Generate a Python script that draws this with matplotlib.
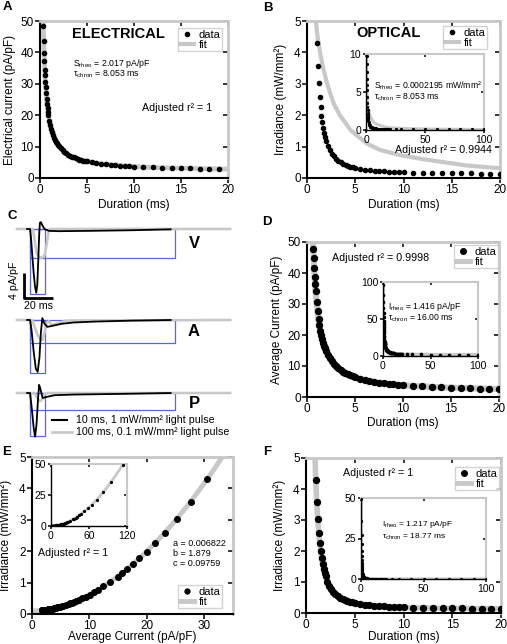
import numpy as np
import matplotlib
matplotlib.use("Agg")
import matplotlib.pyplot as plt
from matplotlib.lines import Line2D
import matplotlib.lines as mlines
from matplotlib.patches import Rectangle

plt.rcParams['font.family'] = ['Liberation Sans', 'DejaVu Sans']
plt.rcParams['mathtext.fontset'] = 'custom'
plt.rcParams['mathtext.rm'] = 'Liberation Sans'
plt.rcParams['mathtext.it'] = 'Liberation Sans:italic'

# ---------------- data ----------------
# Panel A: electrical strength-duration
dur_A = [0.35, 0.39, 0.43, 0.46, 0.50, 0.53, 0.57, 0.60, 0.65, 0.70, 0.75, 0.80, 0.85, 0.90,
         1.0, 1.1, 1.2, 1.3, 1.4, 1.5, 1.6, 1.7, 1.8, 1.9, 2.0, 2.2, 2.4, 2.6, 2.8, 3.0,
         3.2, 3.4, 3.6, 3.8, 4.0, 4.2, 4.4, 4.6, 4.8, 5.0, 5.5, 6, 6.5, 7, 7.5, 8, 8.5,
         9, 9.5, 10, 11, 12, 13, 14, 15, 16, 17, 18, 19]
cur_A = [48.43, 43.67, 39.79, 37.33, 34.50, 32.66, 30.51, 29.09, 27.01, 25.22, 23.67, 22.32,
         21.13, 20.06, 18.26, 16.78, 15.55, 14.51, 13.62, 12.85, 12.17, 11.57, 11.04, 10.57,
         10.14, 9.40, 8.79, 8.26, 7.82, 7.43, 7.09, 6.79, 6.53, 6.29, 6.08, 5.88, 5.71, 5.55,
         5.40, 5.27, 4.97, 4.72, 4.52, 4.34, 4.18, 4.05, 3.93, 3.82, 3.73, 3.64, 3.49, 3.37,
         3.27, 3.18, 3.10, 3.03, 2.97, 2.92, 2.87]
S_rheo_A, tau_A = 2.017, 8.053

# Panels B, D, E, F: optical durations, average current, irradiance
dur_O = [0.30, 0.35, 0.40, 0.45, 0.50, 0.55, 0.60,
         0.66, 0.70, 0.75, 0.80, 0.85, 0.90,
         1.0, 1.1, 1.2, 1.3, 1.4, 1.5, 1.6, 1.7, 1.8, 1.9, 2.0,
         2.2, 2.4, 2.6, 2.8, 3.0,
         3.25, 3.5, 3.75, 4.0, 4.25, 4.5, 4.75, 5.0,
         5.5, 6, 6.5, 7, 7.5, 8, 8.5, 9, 9.5, 10,
         11, 12, 13, 14, 15, 16, 17, 18, 19, 20,
         25, 30, 40, 50, 60, 70, 80, 90, 100]
cur_D = [112.9, 95.3, 82.3, 72.3, 64.4, 58.1, 52.8,
         47.6, 44.7, 41.5, 38.7, 36.3, 34.1,
         30.5, 27.6, 25.2, 23.1, 21.4, 19.95, 18.7, 17.55, 16.56, 15.68, 14.9,
         13.55, 12.44, 11.51, 10.72, 10.04,
         9.32, 8.70, 8.18, 7.72, 7.32, 6.96, 6.65, 6.37,
         5.88, 5.48, 5.15, 4.87, 4.63, 4.42, 4.23, 4.07, 3.92, 3.79,
         3.57, 3.39, 3.23, 3.10, 2.99, 2.89, 2.81, 2.74, 2.67, 2.61,
         2.39, 2.24, 2.06, 1.96, 1.89, 1.85, 1.81, 1.79, 1.77]
irr_O = [49.2, 35.8, 27.2, 21.3, 17.2, 14.2, 11.9,
         9.78, 8.70, 7.58, 6.66, 5.92, 5.27,
         4.30, 3.58, 3.03, 2.59, 2.25, 1.99, 1.77, 1.58, 1.43, 1.30, 1.19,
         1.01, 0.88, 0.77, 0.69, 0.62,
         0.55, 0.50, 0.45, 0.42, 0.39, 0.36, 0.34, 0.32,
         0.29, 0.26, 0.25, 0.23, 0.22, 0.21, 0.20, 0.19, 0.19, 0.18,
         0.17, 0.17, 0.16, 0.155, 0.15, 0.148, 0.145, 0.143, 0.141, 0.139,
         0.133, 0.129, 0.124, 0.122, 0.120, 0.119, 0.118, 0.118, 0.117]
# Panel B fit
fitB_dur = [0.45, 0.6, 0.75, 0.93, 1.0, 1.1, 1.2, 1.35, 1.6, 2.0, 2.4, 2.8, 3.4, 4.0, 4.5,
            5.0, 6.2, 7.5, 9.6, 12, 13.8, 16.5, 20, 30, 50, 100]
fitB_val = [10.5, 8.0, 6.3, 5.0, 4.75, 4.5, 4.3, 4.0, 3.6, 3.1, 2.7, 2.35, 2.0, 1.75, 1.53,
            1.4, 1.1, 0.9, 0.73, 0.6, 0.52, 0.4, 0.31, 0.22, 0.14, 0.08]
# Panel E fit parameters
a_E, b_E, c_E = 0.006822, 1.879, 0.09759

# Panel C traces (time ms from pulse onset, current pA/pF from baseline)
trace_names = ['V', 'A', 'P']
black_t = [[-2, 0, 0.7, 1.5, 2.5, 3.5, 4.3, 5.0, 5.7, 6.3, 6.8, 7.5, 8.5, 10, 13, 20, 40, 70, 97],
           [-2, 0, 1, 2.5, 4, 5.3, 6.5, 7.5, 8.5, 10, 12, 16, 22, 30, 45, 70, 97],
           [-2, 0, 1, 2.5, 3.5, 4.5, 5.5, 6.3, 7.0, 8.7, 12, 17, 30, 60, 97]]
black_i = [[0, 0, -1.5, -4.0, -7.0, -9.3, -10.2, -9.0, -5.0, -1.0, 1.0, 1.1, 0.6, 0.0, -0.3, -0.35, -0.3, -0.2, -0.05],
           [0, 0, -1.5, -5.0, -7.8, -8.3, -6.0, -2.0, 0.3, -0.6, -1.1, -0.9, -0.6, -0.4, -0.25, -0.1, 0],
           [0, 0, -2.0, -5.5, -7.0, -5.0, -1.0, 1.3, 0.8, -0.8, -0.6, -0.35, -0.25, -0.15, 0]]
gray_t = [[-9, 2, 3, 4.5, 6, 8, 10, 11.5, 12.5, 13.5, 138],
          [-9, 1.5, 3, 5, 7, 8.7, 10, 11.5, 13, 15, 18, 25, 138],
          [-9, 3, 5, 7, 8.5, 10, 12, 138]]
gray_i = [[0, 0, -1.5, -3.8, -4.5, -4.6, -4.2, -2.5, -0.8, 0, 0],
          [0, 0, -1.0, -2.3, -3.1, -3.2, -2.0, -0.4, -0.2, -0.8, -0.6, -0.1, 0],
          [0, 0, -0.8, -1.3, -1.0, -0.2, 0, 0]]
pulse_ms = [10, 100]
narrow_depth = [-10.4, -8.5, -6.8]
wide_depth = [-4.6, -3.7, -2.7]

# ---------------- layout helpers ----------------
W, H = 507, 644
fig = plt.figure(figsize=(W / 100, H / 100), dpi=100)
GRAY = '#c8c8c8'
BLUE = '#5a64dc'


def px_axes(x0, y0, x1, y1):
    return fig.add_axes([x0 / W, 1 - y1 / H, (x1 - x0) / W, (y1 - y0) / H])


def ftext(x, y, s, **kw):
    kw.setdefault('va', 'center')
    fig.text(x / W, 1 - y / H, s, **kw)


def style(ax, xt, yt, xl, yl, fs=8.5, L=3.5, lw=1.5, glw=2.0):
    ax.set_xlim(*xl)
    ax.set_ylim(*yl)
    ax.set_xticks(xt)
    ax.set_yticks(yt)
    for s in ['left', 'bottom']:
        ax.spines[s].set_linewidth(lw)
        ax.spines[s].set_color('black')
    for s in ['top', 'right']:
        ax.spines[s].set_linewidth(glw)
        ax.spines[s].set_color(GRAY)
    ax.tick_params(direction='out', length=L, width=1.1, labelsize=fs, pad=1,
                   top=True, right=True, labeltop=False, labelright=False)
    for t in ax.xaxis.get_major_ticks():
        t.tick2line.set_color(GRAY)
        t.tick2line.set_marker(mlines.TICKDOWN)
    for t in ax.yaxis.get_major_ticks():
        t.tick2line.set_color(GRAY)
        t.tick2line.set_marker(mlines.TICKLEFT)


def legend(ax, xr, yt, ms=3.0, flw=3.0):
    h = [Line2D([], [], marker='o', color='k', ls='none', ms=ms),
         Line2D([], [], color=GRAY, lw=flw)]
    lg = ax.legend(h, ['data', 'fit'], loc='upper right', bbox_to_anchor=(xr / W, 1 - yt / H),
                   bbox_transform=fig.transFigure, fontsize=8, frameon=True, fancybox=False,
                   borderpad=0.15, handlelength=1.3, handletextpad=0.4, labelspacing=0.0,
                   borderaxespad=0)
    lg.get_frame().set_edgecolor(GRAY)
    lg.get_frame().set_linewidth(1.0)


# ---------------- Panel A ----------------
axA = px_axes(40, 21, 228, 178)
dfit = np.linspace(0.3, 20, 400)
axA.plot(dfit, S_rheo_A * (1 + tau_A / dfit), color=GRAY, lw=3.5, zorder=2)
axA.plot(dur_A, cur_A, 'o', color='k', ms=3.0, zorder=3, clip_on=True)
style(axA, [0, 5, 10, 15, 20], [0, 10, 20, 30, 40, 50], (0, 20), (0, 50))
axA.set_xlabel('Duration (ms)', fontsize=8.5, labelpad=2)
axA.set_ylabel('Electrical current (pA/pF)', fontsize=8.5, labelpad=3)
legend(axA, 222, 28)
ftext(118, 34, 'ELECTRICAL', fontsize=10.5, fontweight='bold', ha='center')
ftext(73, 63, r'S$_{\mathrm{rheo}}$ = 2.017 pA/pF', fontsize=6.3)
ftext(73, 74, r'τ$_{\mathrm{chron}}$ = 8.053 ms', fontsize=6.3)
ftext(142, 108, 'Adjusted r² = 1', fontsize=7.7)

# ---------------- Panel B ----------------
axB = px_axes(307, 21, 500, 178)
axB.plot(fitB_dur, fitB_val, color=GRAY, lw=3.0, zorder=2)
axB.plot(dur_O, irr_O, 'o', color='k', ms=3.0, zorder=3)
style(axB, [0, 5, 10, 15, 20], [0, 1, 2, 3, 4, 5], (0, 20), (0, 5))
axB.set_xlabel('Duration (ms)', fontsize=8.5, labelpad=2)
axB.set_ylabel('Irradiance (mW/mm²)', fontsize=8.5, labelpad=5)
legend(axB, 487, 26)
ftext(389, 33, 'OPTICAL', fontsize=10.5, fontweight='bold', ha='center')
ftext(395, 150, 'Adjusted r² = 0.9944', fontsize=7.7)

axBi = px_axes(366, 54, 484, 130)
axBi.plot(fitB_dur, fitB_val, color=GRAY, lw=2.0, zorder=2)
axBi.plot(dur_O, irr_O, 'o', color='k', ms=1.3, zorder=3)
style(axBi, [0, 50, 100], [0, 5, 10], (0, 100), (0, 10), fs=7.5, L=2.5, lw=1.0, glw=1.5)
ftext(374, 86, r'S$_{\mathrm{rheo}}$ = 0.0002195 mW/mm²', fontsize=6.2)
ftext(374, 97, r'τ$_{\mathrm{chron}}$ = 8.053 ms', fontsize=6.2)

# ---------------- Panel C ----------------
axC = px_axes(10, 212, 240, 445)
axC.axis('off')
axC.set_xlim(-13.8, 144.8)
axC.set_ylim(-37.28, 0)
row_base = [-2.72, -17.28, -28.96]
for k in range(3):
    base = row_base[k]
    axC.add_patch(Rectangle((0, base + narrow_depth[k]), pulse_ms[0], -narrow_depth[k],
                            fill=False, edgecolor=BLUE, lw=0.9, zorder=1))
    axC.add_patch(Rectangle((0, base + wide_depth[k]), pulse_ms[1], -wide_depth[k],
                            fill=False, edgecolor=BLUE, lw=0.9, zorder=1))
    axC.plot(gray_t[k], np.array(gray_i[k]) + base, color=GRAY, lw=1.9, zorder=2)
    axC.plot(black_t[k], np.array(black_i[k]) + base, color='k', lw=1.3, zorder=3)
    ftext(194, [243, 332, 403][k], trace_names[k], fontsize=12, fontweight='bold', ha='center')
# scale bar
axC.plot([-4.1, -4.1, 15.9], [-9.76, -13.76, -13.76], color='k', lw=2.0, solid_capstyle='butt')
ftext(14, 280, '4 pA/pF', fontsize=7.7, rotation=90, ha='center')
ftext(38, 306, '20 ms', fontsize=7.7, ha='center')
# legend of C
fig.add_artist(Line2D([52 / W, 67 / W], [1 - 420 / H, 1 - 420 / H], color='k', lw=1.5))
fig.add_artist(Line2D([52 / W, 72 / W], [1 - 432 / H, 1 - 432 / H], color=GRAY, lw=1.9))
ftext(76, 420, '10 ms, 1 mW/mm² light pulse', fontsize=7.7)
ftext(76, 432, '100 ms, 0.1 mW/mm² light pulse', fontsize=7.7)

# ---------------- Panel D ----------------
axD = px_axes(307, 242, 499, 397)
axD.plot(dur_O, cur_D, color=GRAY, lw=4.5, zorder=2)
axD.plot(dur_O, cur_D, 'o', color='k', ms=4.3, zorder=3)
style(axD, [0, 5, 10, 15, 20], [0, 10, 20, 30, 40, 50], (0, 20), (0, 50))
axD.set_xlabel('Duration (ms)', fontsize=8.5, labelpad=1)
axD.set_ylabel('Average Current (pA/pF)', fontsize=8.5, labelpad=3)
legend(axD, 498, 245, ms=4.0, flw=3.5)
ftext(332, 258, 'Adjusted r² = 0.9998', fontsize=7.7)

axDi = px_axes(383, 282, 478, 356)
axDi.plot(dur_O, cur_D, color=GRAY, lw=2.5, zorder=2)
axDi.plot(dur_O, cur_D, 'o', color='k', ms=1.6, zorder=3)
style(axDi, [0, 50, 100], [0, 50, 100], (0, 100), (0, 100), fs=7.5, L=2.5, lw=1.0, glw=1.5)
ftext(388, 307, r'I$_{\mathrm{rheo}}$ = 1.416 pA/pF', fontsize=6.2)
ftext(388, 318, r'τ$_{\mathrm{chron}}$ = 16.00 ms', fontsize=6.2)

# ---------------- Panel E ----------------
axE = px_axes(32, 457, 233, 614)
cfit = np.linspace(0, 120, 600)
axE.plot(cfit, a_E * cfit ** b_E + c_E, color=GRAY, lw=3.5, zorder=2)
axE.plot(cur_D, irr_O, 'o', color='k', ms=4.0, zorder=3)
style(axE, [0, 10, 20, 30], [0, 1, 2, 3, 4, 5], (0, 35), (0, 5))
axE.set_xlabel('Average Current (pA/pF)', fontsize=8.5, labelpad=-1)
axE.set_ylabel('Irradiance (mW/mm²)', fontsize=8.5, labelpad=5)
legend(axE, 222, 585, ms=3.5, flw=3.5)
ftext(38, 553, 'Adjusted r² = 1', fontsize=7.7)
ftext(173, 543, 'a = 0.006822', fontsize=6.5)
ftext(173, 553, 'b = 1.879', fontsize=6.5)
ftext(173, 563, 'c = 0.09759', fontsize=6.5)

axEi = px_axes(51, 464, 127, 526)
axEi.plot(cfit, a_E * cfit ** b_E + c_E, color=GRAY, lw=2.0, zorder=2)
axEi.plot(cur_D, irr_O, 'o', color='k', ms=1.3, zorder=3)
style(axEi, [0, 60, 120], [0, 25, 50], (0, 120), (0, 50), fs=7.5, L=2.5, lw=1.0, glw=1.5)

# ---------------- Panel F ----------------
axF = px_axes(306, 458, 501, 613)
axF.plot(dur_O, irr_O, color=GRAY, lw=4.0, zorder=2)
axF.plot(dur_O, irr_O, 'o', color='k', ms=4.3, zorder=3)
style(axF, [0, 5, 10, 15, 20], [0, 1, 2, 3, 4, 5], (0, 20), (0, 5))
axF.set_xlabel('Duration (ms)', fontsize=8.5, labelpad=-0.5)
axF.set_ylabel('Irradiance (mW/mm²)', fontsize=8.5, labelpad=5)
legend(axF, 499, 467, ms=4.0, flw=3.5)
ftext(343, 473, 'Adjusted r² = 1', fontsize=7.7)

axFi = px_axes(361, 498, 486, 579)
axFi.plot(dur_O, irr_O, color=GRAY, lw=2.0, zorder=2)
axFi.plot(dur_O, irr_O, 'o', color='k', ms=1.3, zorder=3)
style(axFi, [0, 50, 100], [0, 25, 50], (0, 100), (0, 50), fs=7.5, L=2.5, lw=1.0, glw=1.5)
ftext(382, 525, r'I$_{\mathrm{rheo}}$ = 1.217 pA/pF', fontsize=6.0)
ftext(382, 537, r'τ$_{\mathrm{chron}}$ = 18.77 ms', fontsize=6.0)

# ---------------- panel letters ----------------
for lab, (x, y) in {'A': (7, 7), 'B': (268, 8), 'C': (12, 216), 'D': (267, 222),
                    'E': (7, 452), 'F': (267, 452)}.items():
    ftext(x, y, lab, fontsize=9.5, fontweight='bold', ha='center')

fig.savefig('out.png', dpi=100)
